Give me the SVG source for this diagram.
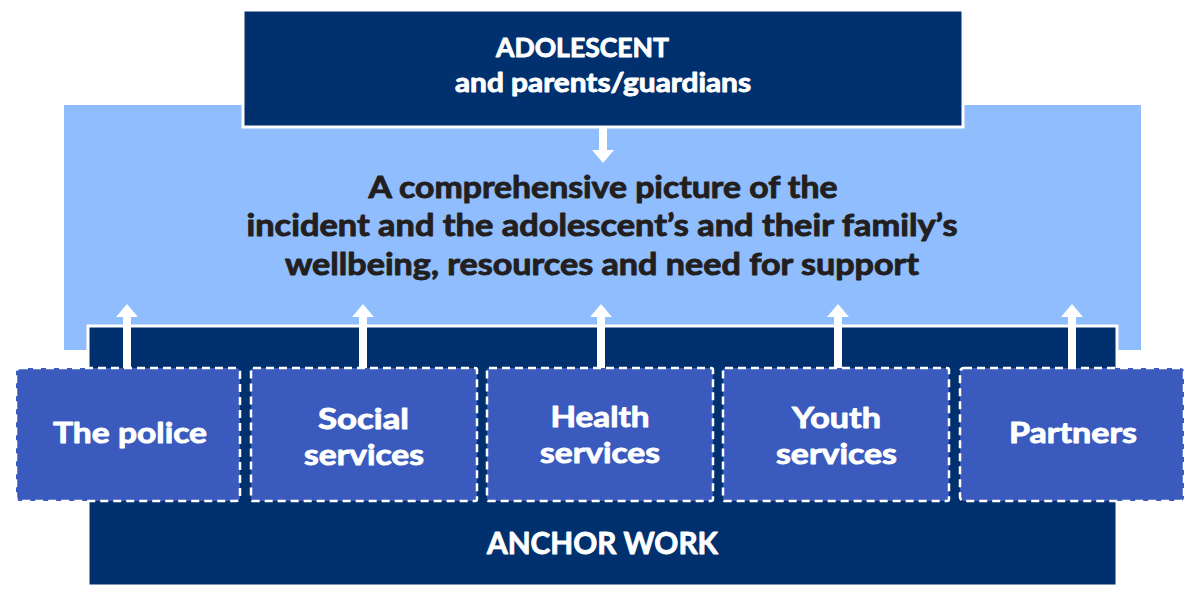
<svg xmlns="http://www.w3.org/2000/svg" width="1200" height="605" viewBox="0 0 1200 605">
<defs>
<style>
.dark{fill:#00306e;stroke:#ffffff;stroke-width:3}
.light{fill:#8fbdfd}
.svc{fill:#3a5bbd;stroke:#ffffff;stroke-width:2.5;stroke-dasharray:8 5}
.t{font-family:Lato,"Liberation Sans",sans-serif;font-weight:700;text-anchor:middle;stroke-width:0.9;stroke-linejoin:round}
.w{fill:#ffffff;stroke:#ffffff}
.k{fill:#231f20;stroke:#231f20}
.arr{stroke:#ffffff;stroke-width:8;fill:none;marker-end:url(#ah)}
</style>
<marker id="ah" markerUnits="userSpaceOnUse" viewBox="0 0 13 22" refX="1" refY="11" markerWidth="13" markerHeight="22" orient="auto">
<path d="M0,0 L13,11 L0,22 Z" fill="#ffffff"/>
</marker>
</defs>
<g id="context">
<rect class="light" x="64" y="105" width="1077" height="245"/>
<text class="t k" font-size="30" x="603" y="198" textLength="469" lengthAdjust="spacingAndGlyphs">A comprehensive picture of the</text>
<text class="t k" font-size="30" x="602" y="236" textLength="711" lengthAdjust="spacingAndGlyphs">incident and the adolescent’s and their family’s</text>
<text class="t k" font-size="30" x="602" y="275" textLength="634" lengthAdjust="spacingAndGlyphs">wellbeing, resources and need for support</text>
</g>
<g id="adolescent">
<rect class="dark" x="243" y="10" width="720" height="117"/>
<text class="t w" font-size="26" x="582.5" y="57" textLength="173" lengthAdjust="spacingAndGlyphs">ADOLESCENT</text>
<text class="t w" font-size="26" x="603" y="92" textLength="296" lengthAdjust="spacingAndGlyphs">and parents/guardians</text>
</g>
<g id="anchor-work">
<rect class="dark" x="88" y="326" width="1029" height="260"/>
<text class="t w" font-size="30" x="602.5" y="554" textLength="231" lengthAdjust="spacingAndGlyphs">ANCHOR WORK</text>
</g>
<g id="connectors">
<line class="arr" x1="603" y1="128" x2="603" y2="151"/>
<line class="arr" x1="127" y1="368" x2="127" y2="316"/>
<line class="arr" x1="363" y1="368" x2="363" y2="316"/>
<line class="arr" x1="601" y1="368" x2="601" y2="316"/>
<line class="arr" x1="838" y1="368" x2="838" y2="316"/>
<line class="arr" x1="1072" y1="368" x2="1072" y2="316"/>
</g>
<g id="police">
<rect class="svc" x="16" y="368" width="224" height="133" rx="4"/>
<text class="t w" font-size="29" x="130" y="443" textLength="154" lengthAdjust="spacingAndGlyphs">The police</text>
</g>
<g id="social">
<rect class="svc" x="251" y="368" width="226" height="133" rx="2"/>
<text class="t w" font-size="29" x="363.5" y="429" textLength="91" lengthAdjust="spacingAndGlyphs">Social</text>
<text class="t w" font-size="29" x="364" y="465" textLength="120" lengthAdjust="spacingAndGlyphs">services</text>
</g>
<g id="health">
<rect class="svc" x="487" y="368" width="226" height="133" rx="2"/>
<text class="t w" font-size="29" x="600" y="427" textLength="99" lengthAdjust="spacingAndGlyphs">Health</text>
<text class="t w" font-size="29" x="600" y="463" textLength="120" lengthAdjust="spacingAndGlyphs">services</text>
</g>
<g id="youth">
<rect class="svc" x="723" y="368" width="226" height="133" rx="2"/>
<text class="t w" font-size="29" x="836.5" y="428" textLength="89" lengthAdjust="spacingAndGlyphs">Youth</text>
<text class="t w" font-size="29" x="836.5" y="464" textLength="121" lengthAdjust="spacingAndGlyphs">services</text>
</g>
<g id="partners">
<rect class="svc" x="960" y="368" width="224" height="133" rx="4"/>
<text class="t w" font-size="29" x="1073" y="443" textLength="128" lengthAdjust="spacingAndGlyphs">Partners</text>
</g>
</svg>
